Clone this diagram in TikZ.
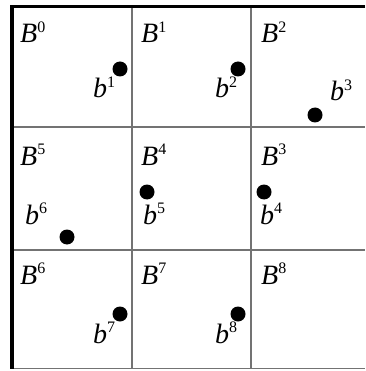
\documentclass[tikz,border=0pt]{standalone}
\usepackage{fontspec}
\setmainfont{Liberation Serif}
\usepackage{tikz}

\newcommand{\idx}[2]{\textit{#1}\raisebox{10.5pt}{\fontsize{16}{16}\selectfont #2}}

\tikzset{
  vora/.style={line width=3.6pt, black},
  reixa/.style={line width=1.5pt, black!55},
  punt/.style={circle, fill=black, inner sep=0pt, minimum size=15pt},
  etiq/.style={anchor=base west, inner sep=0pt, font=\fontsize{28}{28}\selectfont}
}

\begin{document}
\begin{tikzpicture}[x=1pt, y=-1pt]
    \useasboundingbox (0,0) rectangle (365,371);
    % Reixa interior
    \draw[reixa] (132,6) -- (132,369);
    \draw[reixa] (251,6) -- (251,369);
    \draw[reixa] (12,127) -- (365,127);
    \draw[reixa] (12,250) -- (365,250);
    \draw[reixa] (12,368.5) -- (365,368.5);
    % Vores gruixudes: dalt i esquerra
    \draw[vora] (365,6.5) -- (12,6.5) -- (12,369);
    % Blocs B
    \node[etiq] (B0) at (20,43) {\idx{B}{0}};
    \node[etiq] (B1) at (141,43) {\idx{B}{1}};
    \node[etiq] (B2) at (261,43) {\idx{B}{2}};
    \node[etiq] (B5) at (20,165) {\idx{B}{5}};
    \node[etiq] (B4) at (141,165) {\idx{B}{4}};
    \node[etiq] (B3) at (261,165) {\idx{B}{3}};
    \node[etiq] (B6) at (20,284) {\idx{B}{6}};
    \node[etiq] (B7) at (141,284) {\idx{B}{7}};
    \node[etiq] (B8) at (261,284) {\idx{B}{8}};
    % Punts b
    \node[punt] (p1) at (120,69) {};
    \node[punt] (p2) at (238,69) {};
    \node[punt] (p3) at (315,115) {};
    \node[punt] (p6) at (67,237) {};
    \node[punt] (p5) at (147,192) {};
    \node[punt] (p4) at (264,192) {};
    \node[punt] (p7) at (120,314) {};
    \node[punt] (p8) at (238,314) {};
    % Etiquetes dels punts
    \node[etiq] (b1) at (93,98) {\idx{b}{1}};
    \node[etiq] (b2) at (215,98) {\idx{b}{2}};
    \node[etiq] (b3) at (330,101) {\idx{b}{3}};
    \node[etiq] (b6) at (25,224) {\idx{b}{6}};
    \node[etiq] (b5) at (143,224) {\idx{b}{5}};
    \node[etiq] (b4) at (260,224) {\idx{b}{4}};
    \node[etiq] (b7) at (93,343) {\idx{b}{7}};
    \node[etiq] (b8) at (215,343) {\idx{b}{8}};
\end{tikzpicture}
\end{document}
